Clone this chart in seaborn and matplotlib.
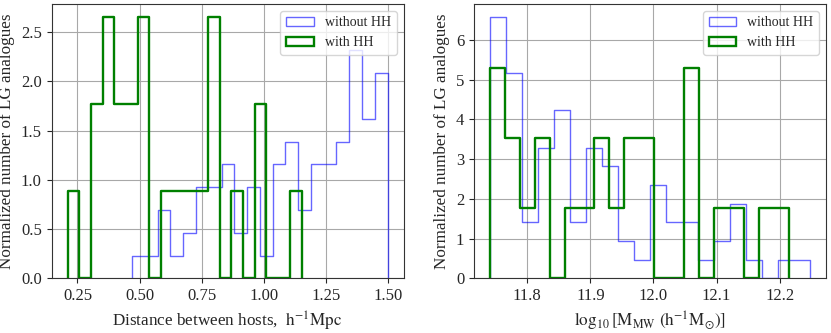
import numpy as np
import matplotlib.pyplot as plt
from matplotlib.patches import Patch
import seaborn as sns

# Left panel: distance between hosts (counts per bin)
dist_without_range = (0.470, 1.498)
dist_without_counts = [1, 1, 3, 1, 2, 4, 4, 5, 2, 4, 1, 5, 6, 3, 5, 5, 6, 10, 7, 9]
dist_with_range = (0.210, 1.152)
dist_with_counts = [1, 0, 2, 3, 2, 2, 3, 0, 1, 1, 1, 1, 3, 0, 1, 0, 2, 0, 0, 1]

# Right panel: log10 MW mass (counts per bin)
mass_without_range = (11.741, 12.248)
mass_without_counts = [14, 11, 3, 7, 9, 3, 7, 6, 2, 1, 5, 3, 3, 1, 2, 4, 1, 0, 1, 1]
mass_with_range = (11.741, 12.214)
mass_with_counts = [3, 2, 1, 2, 0, 1, 1, 2, 1, 2, 2, 0, 0, 3, 0, 1, 1, 0, 1, 1]

sns.set_style("ticks", {
    "axes.grid": True,
    "grid.color": "#a8a8a8",
    "axes.edgecolor": "#333333",
})
plt.rcParams["font.family"] = ["Liberation Serif", "DejaVu Serif"]
plt.rcParams["mathtext.fontset"] = "stix"


def hist(ax, rng, counts, **kws):
    edges = np.linspace(rng[0], rng[1], len(counts) + 1)
    centers = (edges[:-1] + edges[1:]) / 2
    sns.histplot(x=centers, weights=np.asarray(counts, float), bins=len(counts),
                 binrange=rng, stat="density",
                 element="step", fill=False, ax=ax, **kws)
    # close the outline down to zero at both ends, like histtype='step'
    line = ax.lines[-1]
    x, y = line.get_data()
    line.set_data(np.r_[x[0], x, x[-1]], np.r_[0, y, 0])


fig, axes = plt.subplots(1, 2, figsize=(8.31, 3.33), dpi=100)
fig.subplots_adjust(left=0.062, right=0.994, top=0.988, bottom=0.164, wspace=0.2)

blue = dict(color="blue", alpha=0.6, linewidth=1.0)
green = dict(color="green", linewidth=1.7)

ax = axes[0]
hist(ax, dist_without_range, dist_without_counts, **blue)
hist(ax, dist_with_range, dist_with_counts, **green)
ax.set_xlabel(r"Distance between hosts,  $\mathrm{h^{-1}Mpc}$", fontsize=12.3)
ax.set_xticks([0.25, 0.5, 0.75, 1.0, 1.25, 1.5])

ax = axes[1]
hist(ax, mass_without_range, mass_without_counts, **blue)
hist(ax, mass_with_range, mass_with_counts, **green)
ax.set_xlabel(r"$\log_{10}[\mathrm{M_{MW}\ (h^{-1}M_{\odot})}]$", fontsize=12.3)
ax.set_xticks([11.8, 11.9, 12.0, 12.1, 12.2])

for ax in axes:
    ax.set_ylabel("Normalized number of LG analogues", fontsize=12.3, labelpad=4)
    ax.tick_params(labelsize=12)
    for lab in ax.get_xticklabels() + ax.get_yticklabels():
        lab.set_fontfamily(["Liberation Serif", "DejaVu Serif"])
    handles = [Patch(facecolor="none", edgecolor="blue", alpha=0.6, linewidth=1.0),
               Patch(facecolor="none", edgecolor="green", linewidth=1.7)]
    ax.legend(handles, ["without HH", "with HH"], loc="upper right", fontsize=10)

plt.savefig("out.png")
